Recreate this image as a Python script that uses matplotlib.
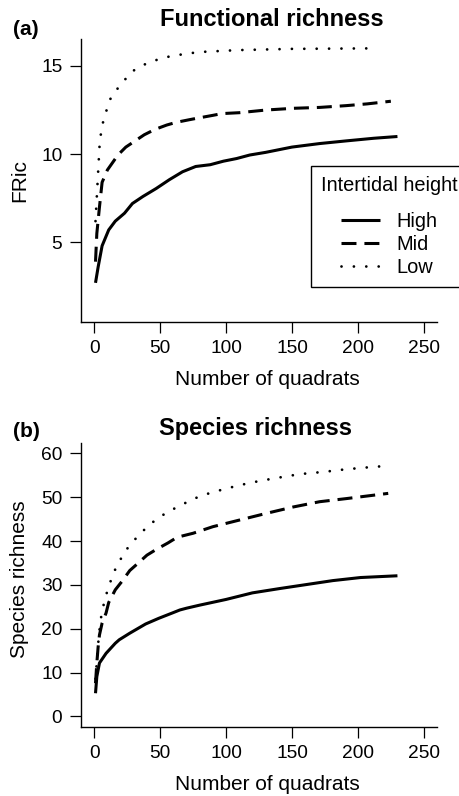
import matplotlib
matplotlib.use("Agg")
import matplotlib.pyplot as plt

plt.rcParams['font.family'] = ['Liberation Sans', 'DejaVu Sans']

# (a) functional richness
quad_high_a = [1, 3, 6, 11, 16, 23, 29, 37, 47, 57, 67, 77, 88, 98, 108, 118, 130, 150, 171, 191, 212, 230]
fric_high = [2.7, 3.6, 4.8, 5.7, 6.2, 6.65, 7.2, 7.6, 8.05, 8.55, 9.0, 9.3, 9.4, 9.6, 9.75, 9.95, 10.1, 10.4, 10.6, 10.75, 10.9, 11.0]

quad_mid_a = [1, 2, 4, 6, 10, 18, 24, 32, 38, 46, 55, 62, 72, 79, 90, 97, 110, 130, 151, 171, 191, 207, 225]
fric_mid = [3.9, 5.5, 7.0, 8.4, 9.1, 9.95, 10.4, 10.8, 11.1, 11.4, 11.65, 11.8, 11.95, 12.05, 12.2, 12.3, 12.35, 12.5, 12.6, 12.65, 12.75, 12.85, 13.0]

quad_low_a = [1, 1.5, 2, 2.5, 3, 3.5, 4, 5, 6.5, 9, 12, 17, 23, 29, 37, 45.5, 54.5, 63.5, 72, 82, 109, 150, 213]
fric_low = [6.2, 6.9, 7.6, 8.3, 9.0, 9.7, 10.4, 11.1, 11.75, 12.4, 13.1, 13.65, 14.2, 14.7, 15.05, 15.3, 15.5, 15.62, 15.72, 15.8, 15.9, 15.97, 16.0]

# (b) species richness
quad_high_b = [1, 2, 4, 9, 16, 19, 27, 39, 49, 60, 65, 70, 80, 100, 120, 141, 161, 181, 202, 230]
sr_high = [5.3, 9.1, 12.2, 14.4, 16.7, 17.5, 19.0, 21.1, 22.4, 23.7, 24.3, 24.7, 25.4, 26.7, 28.2, 29.2, 30.1, 31.0, 31.7, 32.1]

quad_mid_b = [1, 2, 3, 4, 6, 9, 11, 16, 21, 27, 33, 40, 47, 56, 63, 75, 90, 110, 130, 151, 171, 191, 207, 223]
sr_mid = [7.6, 12.2, 15.9, 18.6, 21.3, 23.6, 26.0, 28.9, 30.8, 33.3, 34.9, 36.8, 38.1, 39.6, 40.9, 41.8, 43.3, 44.8, 46.3, 47.8, 49.0, 49.7, 50.3, 50.9]

quad_low_b = [1, 2, 3, 4.6, 6.3, 8.4, 11.4, 14, 18.3, 22.8, 28.4, 34.7, 41.3, 48.7, 56.5, 64.6, 73.5, 82.4, 100, 118, 136, 156, 174, 191, 210, 219]
sr_low = [8.6, 12.5, 16.5, 21.6, 24.3, 27.2, 29.8, 32.4, 34.9, 37.4, 39.6, 41.6, 43.6, 45.3, 46.8, 48.0, 49.4, 50.5, 52.0, 53.3, 54.3, 55.3, 55.8, 56.4, 56.9, 57.1]

x_ticks = [0, 50, 100, 150, 200, 250]

solid = dict(color='black', lw=2.2, solid_capstyle='butt')
dashed = dict(color='black', lw=2.2, linestyle=(0, (4.9, 2.6)), dash_capstyle='butt')
dotted = dict(color='black', lw=2.0, linestyle=(0, (0.01, 4.45)), dash_capstyle='round')

fig = plt.figure(figsize=(4.6, 7.96), dpi=100)
ax1 = fig.add_axes([0.1761, 0.5955, 0.7739, 0.3555])
ax2 = fig.add_axes([0.1761, 0.0867, 0.7739, 0.3568])


def style(ax, yticks, ylim):
    ax.set_xlim(-10, 260)
    ax.set_ylim(*ylim)
    ax.set_xticks(x_ticks)
    ax.set_yticks(yticks)
    for s in ['top', 'right']:
        ax.spines[s].set_visible(False)
    for s in ['left', 'bottom']:
        ax.spines[s].set_linewidth(1.0)
    ax.tick_params(direction='out', length=8, width=0.9, labelsize=13.8)
    ax.tick_params(axis='x', pad=5)
    ax.tick_params(axis='y', pad=5.5)
    ax.set_xlabel("Number of quadrats", fontsize=15)
    ax.xaxis.set_label_coords(0.524, -0.17)


ax1.plot(quad_high_a, fric_high, label='High', **solid)
ax1.plot(quad_mid_a, fric_mid, label='Mid', **dashed)
ax1.plot(quad_low_a, fric_low, label='Low', **dotted)
style(ax1, [5, 10, 15], (0.48, 16.53))
ax1.set_ylabel("FRic", fontsize=15)
ax1.yaxis.set_label_coords(-0.145, 0.5)
ax1.set_title("Functional richness", fontsize=17, fontweight='bold', x=0.537, y=1.045, pad=0)

ax2.plot(quad_high_b, sr_high, **solid)
ax2.plot(quad_mid_b, sr_mid, **dashed)
ax2.plot(quad_low_b, sr_low, **dotted)
style(ax2, [0, 10, 20, 30, 40, 50, 60], (-2.4, 62.4))
ax2.set_ylabel("Species richness", fontsize=15)
ax2.yaxis.set_label_coords(-0.145, 0.52)
ax2.set_title("Species richness", fontsize=17, fontweight='bold', x=0.49, y=1.028, pad=0)

fig.text(13 / 460, 1 - 35 / 796, "(a)", fontsize=15, fontweight='bold', va='baseline')
fig.text(13 / 460, 1 - 437 / 796, "(b)", fontsize=15, fontweight='bold', va='baseline')

leg = ax1.legend(title="Intertidal height", loc='upper left',
                 bbox_to_anchor=(311 / 460, 1 - 166 / 796), bbox_transform=fig.transFigure,
                 fontsize=14.4, title_fontsize=14.4, fancybox=False, framealpha=1,
                 edgecolor='black', borderpad=0.5, labelspacing=0.2,
                 handlelength=1.95, handletextpad=0.85, borderaxespad=0)
leg.get_frame().set_linewidth(1.0)
leg._legend_box.sep = 12

fig.savefig("out.png", dpi=100)
